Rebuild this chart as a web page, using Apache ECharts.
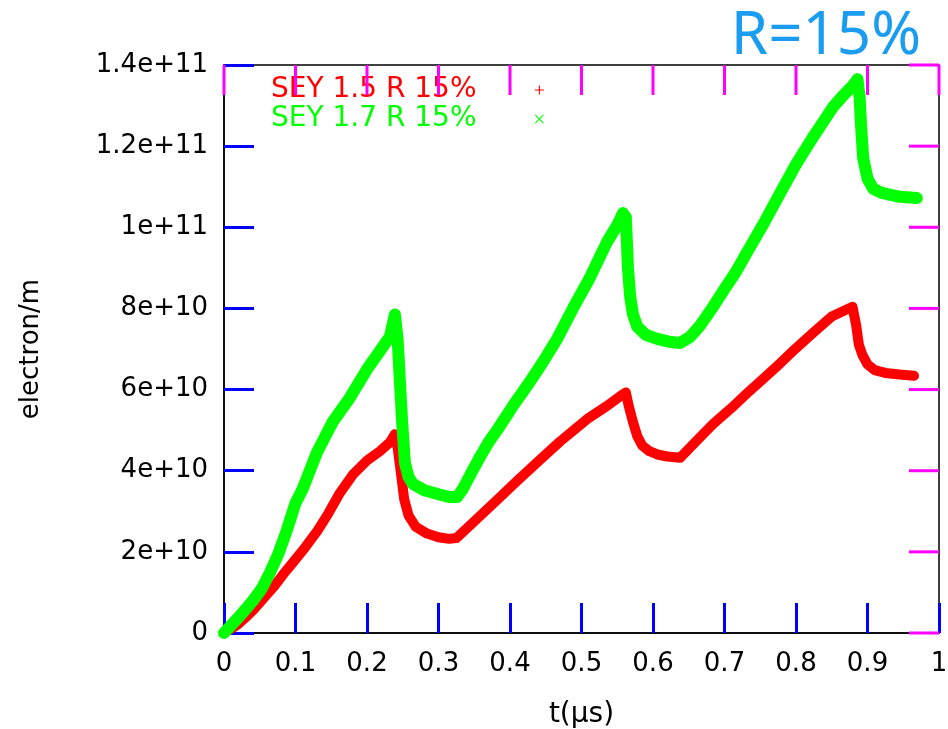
<!DOCTYPE html>
<html>
<head>
<meta charset="utf-8">
<script src="https://cdn.jsdelivr.net/npm/echarts@6/dist/echarts.min.js"></script>
<style>
  html, body { margin: 0; padding: 0; background: #ffffff; }
  #chart { width: 948px; height: 729px; }
</style>
</head>
<body>
<div id="chart"></div>
<script>
// Electron line density versus time for two secondary-emission yields (R = 15%)
const seriesNames = ['SEY 1.5 R 15%', 'SEY 1.7 R 15%'];

// SEY 1.5: time in microseconds, density in electrons per metre
const tSey15 = [0.000, 0.010, 0.020, 0.030, 0.040, 0.050, 0.060, 0.070, 0.083, 0.097,
  0.113, 0.130, 0.146, 0.162, 0.180, 0.200, 0.218, 0.232, 0.239, 0.243,
  0.247, 0.252, 0.258, 0.268, 0.284, 0.300, 0.315, 0.325, 0.350, 0.382,
  0.410, 0.442, 0.470, 0.488, 0.510, 0.536, 0.555, 0.562, 0.566, 0.572,
  0.578, 0.585, 0.595, 0.606, 0.620, 0.638, 0.660, 0.684, 0.710, 0.731,
  0.755, 0.778, 0.800, 0.824, 0.850, 0.879, 0.884, 0.888, 0.893, 0.900,
  0.910, 0.925, 0.945, 0.965];
const nSey15 = [0.00e10, 0.10e10, 0.22e10, 0.38e10, 0.55e10, 0.75e10, 0.95e10, 1.15e10, 1.45e10, 1.75e10,
  2.10e10, 2.50e10, 2.95e10, 3.45e10, 3.90e10, 4.25e10, 4.48e10, 4.70e10, 4.90e10, 4.55e10,
  4.00e10, 3.30e10, 2.90e10, 2.62e10, 2.45e10, 2.36e10, 2.32e10, 2.34e10, 2.75e10, 3.28e10,
  3.75e10, 4.27e10, 4.72e10, 4.98e10, 5.30e10, 5.60e10, 5.85e10, 5.93e10, 5.60e10, 5.20e10,
  4.85e10, 4.62e10, 4.48e10, 4.40e10, 4.35e10, 4.32e10, 4.72e10, 5.15e10, 5.55e10, 5.90e10,
  6.28e10, 6.65e10, 7.02e10, 7.40e10, 7.80e10, 8.04e10, 7.60e10, 7.10e10, 6.85e10, 6.62e10,
  6.48e10, 6.41e10, 6.37e10, 6.34e10];

// SEY 1.7
const tSey17 = [0.000, 0.008, 0.020, 0.030, 0.041, 0.053, 0.064, 0.076, 0.088, 0.100,
  0.110, 0.130, 0.152, 0.176, 0.200, 0.218, 0.232, 0.239, 0.243, 0.246,
  0.249, 0.253, 0.258, 0.264, 0.280, 0.300, 0.316, 0.326, 0.334, 0.346,
  0.358, 0.370, 0.382, 0.405, 0.428, 0.445, 0.466, 0.488, 0.510, 0.536,
  0.550, 0.558, 0.562, 0.565, 0.568, 0.572, 0.578, 0.590, 0.606, 0.622,
  0.638, 0.652, 0.666, 0.684, 0.700, 0.716, 0.731, 0.755, 0.778, 0.800,
  0.824, 0.840, 0.852, 0.866, 0.880, 0.886, 0.889, 0.891, 0.894, 0.900,
  0.908, 0.920, 0.945, 0.969];
const nSey17 = [0.00e10, 0.15e10, 0.38e10, 0.58e10, 0.81e10, 1.10e10, 1.48e10, 1.95e10, 2.54e10, 3.20e10,
  3.55e10, 4.45e10, 5.20e10, 5.80e10, 6.50e10, 6.95e10, 7.30e10, 7.85e10, 7.20e10, 6.20e10,
  5.25e10, 4.20e10, 3.85e10, 3.68e10, 3.52e10, 3.42e10, 3.35e10, 3.35e10, 3.55e10, 3.95e10,
  4.34e10, 4.70e10, 5.00e10, 5.62e10, 6.20e10, 6.65e10, 7.25e10, 8.00e10, 8.70e10, 9.65e10,
  10.05e10, 10.35e10, 10.25e10, 9.00e10, 8.30e10, 7.85e10, 7.55e10, 7.35e10, 7.25e10, 7.18e10,
  7.15e10, 7.30e10, 7.58e10, 8.04e10, 8.48e10, 8.90e10, 9.37e10, 10.10e10, 10.85e10, 11.55e10,
  12.23e10, 12.65e10, 12.97e10, 13.25e10, 13.50e10, 13.65e10, 13.20e10, 12.50e10, 11.70e10, 11.20e10,
  10.95e10, 10.85e10, 10.75e10, 10.72e10];

// Axis ticks
const xTicks = [0, 0.1, 0.2, 0.3, 0.4, 0.5, 0.6, 0.7, 0.8, 0.9, 1];
const xTickLabels = ['0', '0.1', '0.2', '0.3', '0.4', '0.5', '0.6', '0.7', '0.8', '0.9', '1'];
const yTicks = [0, 2e10, 4e10, 6e10, 8e10, 10e10, 12e10, 14e10];
const yTickLabels = ['0', '2e+10', '4e+10', '6e+10', '8e+10', '1e+11', '1.2e+11', '1.4e+11'];

const X_MIN = 0, X_MAX = 1, Y_MIN = 0, Y_MAX = 14e10;

const pairs = (ts, ns) => ts.map((t, i) => [t, ns[i]]);
const labelFor = (ticks, labels) => v => {
  const i = ticks.findIndex(t => Math.abs(t - v) < 1e-6 * Math.max(1, Math.abs(t)));
  return i >= 0 ? labels[i] : '';
};

const FONT = 'DejaVu Sans';
const RED = '#ff0000';
const GREEN = '#00ff00';
const TICK_LEN = 30;
const plusIcon = 'path://M4.4,0H5.6V4.4H10V5.6H5.6V10H4.4V5.6H0V4.4H4.4Z';
const crossIcon = 'path://M0,0.8L0.8,0L5,4.2L9.2,0L10,0.8L5.8,5L10,9.2L9.2,10L5,5.8L0.8,10L0,9.2L4.2,5Z';
const legendPad = '\u00a0\u00a0\u00a0\u00a0\u00a0\u00a0';

const chart = echarts.init(document.getElementById('chart'), null, { renderer: 'canvas' });
chart.setOption({
  backgroundColor: '#ffffff',
  animation: false,
  title: {
    text: 'R=15%',
    right: 22,
    top: 2,
    textStyle: { fontFamily: 'Noto Sans', fontSize: 60, fontWeight: 'normal', color: '#1a9cf0' }
  },
  legend: {
    orient: 'vertical',
    left: 266,
    top: 71,
    align: 'right',
    itemGap: 1,
    itemWidth: 9,
    itemHeight: 9,
    selectedMode: false,
    data: [
      { name: seriesNames[0], icon: plusIcon, itemStyle: { color: RED }, textStyle: { color: RED } },
      { name: seriesNames[1], icon: crossIcon, itemStyle: { color: GREEN }, textStyle: { color: GREEN } }
    ],
    formatter: name => name + legendPad,
    textStyle: { fontFamily: FONT, fontSize: 28 }
  },
  grid: {
    left: 224, right: 9, top: 65, bottom: 96,
    containLabel: false, outerBoundsMode: 'none',
    show: true, borderColor: '#000', borderWidth: 1.5, backgroundColor: 'transparent'
  },
  xAxis: {
    type: 'value', min: X_MIN, max: X_MAX, interval: 0.1,
    name: 't(\u03bcs)', nameLocation: 'middle', nameGap: 68,
    nameTextStyle: { fontFamily: FONT, fontSize: 28, color: '#000' },
    axisLine: { show: true, lineStyle: { color: '#000', width: 1.5 } },
    axisTick: { show: true, inside: true, length: TICK_LEN, lineStyle: { color: '#0000ff', width: 3 } },
    splitLine: { show: false },
    axisLabel: {
      show: true, margin: 18, color: '#000', fontFamily: FONT, fontSize: 26,
      formatter: labelFor(xTicks, xTickLabels)
    }
  },
  yAxis: {
    type: 'value', min: Y_MIN, max: Y_MAX, interval: 2e10,
    name: 'electron/m', nameLocation: 'middle', nameGap: 180, nameRotate: 90,
    nameTextStyle: { fontFamily: FONT, fontSize: 26, color: '#000' },
    axisLine: { show: true, lineStyle: { color: '#000', width: 1.5 } },
    axisTick: { show: true, inside: true, length: TICK_LEN, lineStyle: { color: '#0000ff', width: 3 } },
    splitLine: { show: false },
    axisLabel: {
      show: true, margin: 16, color: '#000', fontFamily: FONT, fontSize: 26,
      formatter: labelFor(yTicks, yTickLabels)
    }
  },
  series: [
    {
      name: seriesNames[0], type: 'line', data: pairs(tSey15, nSey15),
      showSymbol: false, color: RED,
      lineStyle: { width: 10, color: RED, cap: 'round', join: 'round' },
      z: 2
    },
    {
      name: seriesNames[1], type: 'line', data: pairs(tSey17, nSey17),
      showSymbol: false, color: GREEN,
      lineStyle: { width: 12, color: GREEN, cap: 'round', join: 'round' },
      z: 3
    }
  ]
});

// Tick marks on the top and right frame edges, placed through the grid's own scales
const toPx = p => chart.convertToPixel({ gridIndex: 0 }, p);
const tickRect = (x, y, w, h) => ({
  type: 'rect', z: 100, silent: true,
  shape: { x: x, y: y, width: w, height: h },
  style: { fill: '#ff00ff' }
});
const tickMarks = [];
xTicks.forEach(v => {
  const t = toPx([v, Y_MAX]);
  tickMarks.push(tickRect(t[0] - 1.5, t[1], 3, TICK_LEN));
});
yTicks.forEach(v => {
  const r = toPx([X_MAX, v]);
  tickMarks.push(tickRect(r[0] - TICK_LEN, r[1] - 1.5, TICK_LEN, 3));
});
chart.setOption({ graphic: { elements: tickMarks } });
</script>
</body>
</html>
